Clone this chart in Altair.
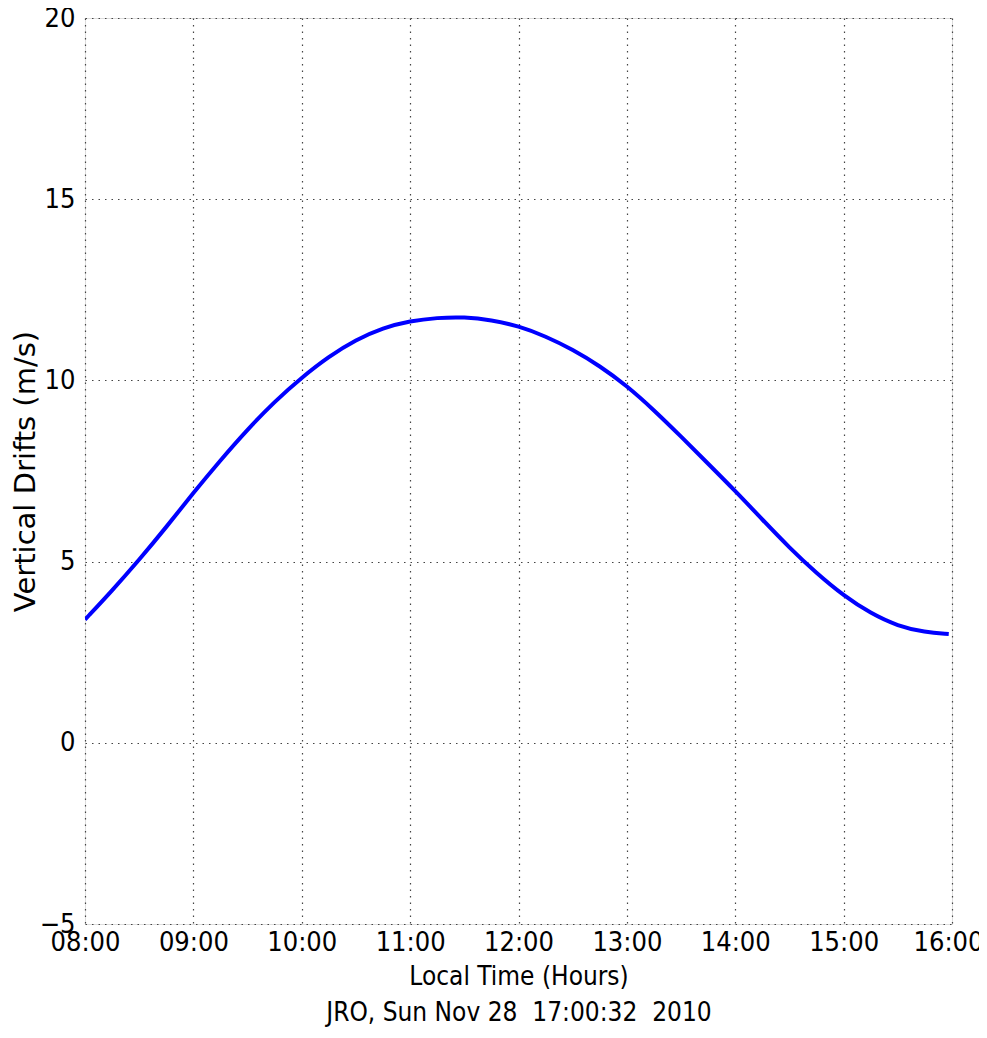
import altair as alt
import pandas as pd

# Local time in hours and vertical drift values (m/s), read every 15 minutes
hours = [8.0, 8.25, 8.5, 8.75, 9.0, 9.25, 9.5, 9.75, 10.0, 10.25, 10.5, 10.75,
         11.0, 11.25, 11.5, 11.75, 12.0, 12.25, 12.5, 12.75, 13.0, 13.25, 13.5,
         13.75, 14.0, 14.25, 14.5, 14.75, 15.0, 15.25, 15.5, 15.75, 15.97]
drift = [3.4, 4.2, 5.05, 5.95, 6.9, 7.8, 8.65, 9.42, 10.08, 10.66, 11.12, 11.45,
         11.64, 11.73, 11.75, 11.67, 11.5, 11.22, 10.85, 10.4, 9.85, 9.18, 8.45,
         7.7, 6.95, 6.16, 5.38, 4.68, 4.06, 3.57, 3.22, 3.05, 3.0]

x_ticks = [8, 9, 10, 11, 12, 13, 14, 15, 16]
y_ticks = [-5, 0, 5, 10, 15, 20]

x_title = "Local Time (Hours)"
footer = "JRO, Sun Nov 28\u00a0\u00a017:00:32\u00a0\u00a02010"
y_title = "Vertical Drifts (m/s)"

df = pd.DataFrame({"hour": hours, "drift": drift})

narrow = "DejaVu Sans Condensed"

grid_common = dict(
    grid=True,
    gridColor="#444444",
    gridDash=[1.5, 5],
    gridWidth=1.2,
    gridOpacity=1,
    tickSize=0,
    domain=False,
    labelFlush=False,
    labelOverlap=False,
    labelColor="black",
    titleColor="black",
    titleFontWeight="normal",
)

chart = alt.Chart(df).mark_line(
    color="#0000ff", strokeWidth=4, interpolate="basis", clip=True
).encode(
    x=alt.X(
        "hour:Q",
        scale=alt.Scale(domain=[8, 16], nice=False, zero=False),
        axis=alt.Axis(
            values=x_ticks,
            labelExpr="(datum.value < 10 ? '0' : '') + datum.value + ':00'",
            title=[x_title, footer],
            titleFont=narrow,
            titleFontSize=26,
            titleLineHeight=36,
            titlePadding=8,
            labelFont=narrow,
            labelFontSize=27,
            labelPadding=5,
            labelOffset={"condition": {"test": "datum.value == 16", "value": -4}, "value": 0},
            **grid_common,
        ),
    ),
    y=alt.Y(
        "drift:Q",
        scale=alt.Scale(domain=[-5, 20], nice=False, zero=False),
        axis=alt.Axis(
            values=y_ticks,
            title=y_title,
            titleFont="DejaVu Sans",
            titleFontSize=29,
            titleX=-45,
            titleY=453,
            labelFont=narrow,
            labelFontSize=27,
            labelPadding=10,
            **grid_common,
        ),
    ),
).properties(
    width=867,
    height=906,
    autosize="none",
    padding={"left": 77, "top": 10, "right": 27, "bottom": 103},
).configure_view(
    stroke="black", strokeWidth=1.8
).configure(background="white")

chart.save("out.html", embed_options={"renderer": "svg", "actions": False})
